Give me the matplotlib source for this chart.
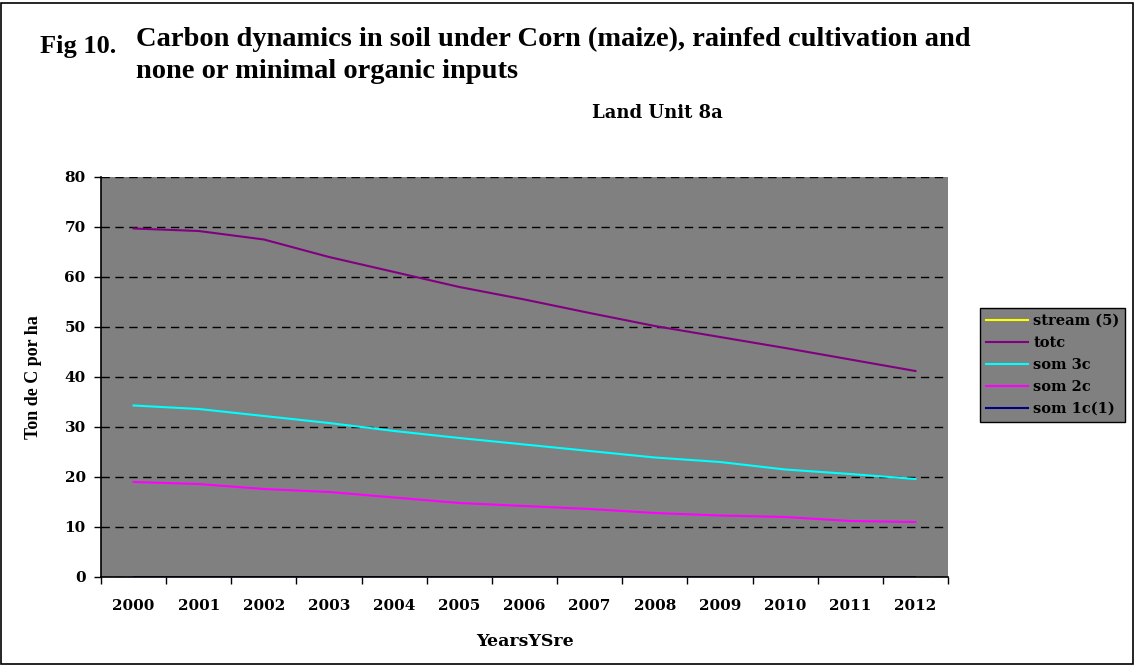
import matplotlib.pyplot as plt
from matplotlib.patches import Rectangle

# datos
years = ['2000', '2001', '2002', '2003', '2004', '2005', '2006',
         '2007', '2008', '2009', '2010', '2011', '2012']
stream5 = [0.0] * 13
totc = [69.7, 69.2, 67.5, 64.0, 61.0, 58.0, 55.5, 52.8, 50.2, 48.0, 45.8, 43.5, 41.2]
som3c = [34.3, 33.6, 32.2, 30.8, 29.2, 27.8, 26.5, 25.2, 23.9, 23.0, 21.5, 20.6, 19.6]
som2c = [19.0, 18.6, 17.6, 17.0, 15.9, 14.8, 14.2, 13.6, 12.8, 12.3, 12.0, 11.2, 11.0]
som1c = [0.1] * 13

plt.rcParams['font.family'] = ['Liberation Serif', 'DejaVu Serif']
plt.rcParams['font.weight'] = 'bold'
wide = ['DejaVu Serif']  # texto "espaciado" como en Excel

fig = plt.figure(figsize=(11.35, 6.65), dpi=100)
W, H = 1135, 665
# borde exterior
fig.patches.append(Rectangle((0.001, 0.002), 0.997, 0.994, transform=fig.transFigure,
                             fill=False, edgecolor='black', linewidth=1.2))

ax = fig.add_axes([101 / W, 1 - 577 / H, (948 - 101) / W, (577 - 177) / H])
ax.set_facecolor('#808080')

x = list(range(len(years)))
ax.plot(x, stream5, color='#ffff00', lw=1.5, label='stream (5)')
ax.plot(x, totc, color='#800080', lw=1.5, label='totc')
ax.plot(x, som3c, color='#00ffff', lw=1.5, label='som 3c')
ax.plot(x, som2c, color='#ff00ff', lw=1.5, label='som 2c')
ax.plot(x, som1c, color='#000080', lw=1.5, label='som 1c(1)')

ax.set_xlim(-0.5, len(years) - 0.5)
ax.set_ylim(0, 80)
ax.set_yticks(range(0, 81, 10))
ax.set_yticklabels([str(v) for v in range(0, 81, 10)], fontsize=11, fontweight='bold', family=wide)
ax.set_xticks(x)
ax.set_xticklabels(years, fontsize=11, fontweight='bold', family=wide)
ax.set_xticks([i - 0.5 for i in range(len(years) + 1)], minor=True)
ax.tick_params(axis='x', which='major', length=0, pad=16)
ax.tick_params(axis='x', which='minor', length=5, width=1, color='black')
ax.tick_params(axis='y', length=5, width=1, pad=6)

ax.yaxis.grid(True, color='black', linestyle=(0, (6, 4)), linewidth=1)
ax.set_axisbelow(True)
for s in ['top', 'right']:
    ax.spines[s].set_visible(False)
ax.spines['left'].set_linewidth(1.2)
ax.spines['bottom'].set_linewidth(1.2)

ax.set_ylabel('Ton de C por ha', fontsize=13, fontweight='bold', labelpad=16)
ax.set_xlabel('YearsYSre', fontsize=12.5, fontweight='bold', labelpad=14, family=wide)

leg = ax.legend(loc='upper left', bbox_to_anchor=(980 / W, 1 - 308 / H),
                bbox_transform=fig.transFigure, frameon=True, fancybox=False,
                prop={'family': wide, 'size': 10.5, 'weight': 'bold'},
                handlelength=2.9, handletextpad=0.35,
                labelspacing=0.55, borderpad=0.4, borderaxespad=0)
leg.get_frame().set_facecolor('#808080')
leg.get_frame().set_edgecolor('black')
leg.get_frame().set_alpha(1)

fig.text(40 / W, 1 - 46 / H, 'Fig 10.', fontsize=19, fontweight='bold', va='center')
fig.text(136 / W, 1 - 39 / H, 'Carbon dynamics in soil under Corn (maize), rainfed cultivation and',
         fontsize=20.5, fontweight='bold', va='center')
fig.text(136 / W, 1 - 71 / H, 'none or minimal organic inputs',
         fontsize=20.5, fontweight='bold', va='center')
fig.text(657 / W, 1 - 113 / H, 'Land Unit 8a', fontsize=13, fontweight='bold',
         va='center', ha='center', family=wide)

fig.savefig('out.png', dpi=100)
